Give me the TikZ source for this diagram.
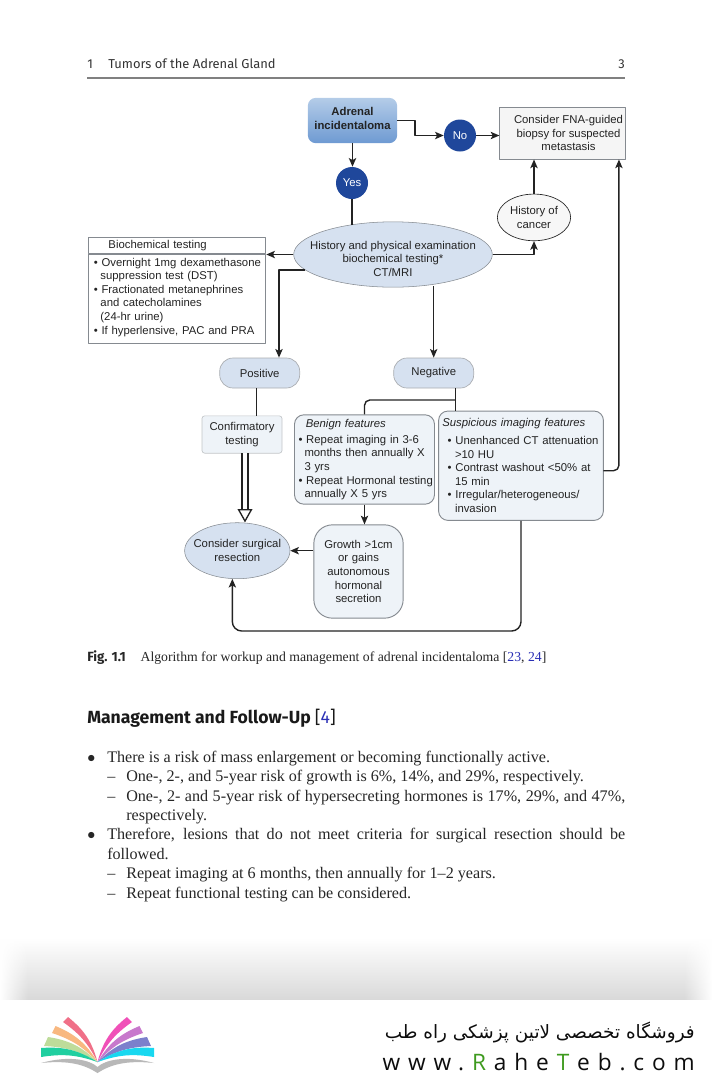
\documentclass[tikz,border=0pt]{standalone}
\usepackage{fontspec}
\setmainfont{Liberation Serif}
\setsansfont{Liberation Sans}
\newfontfamily\headfont{Fira Sans}
\newfontfamily\webfont[LetterSpace=34.7]{Open Sans}
\newfontfamily\persfont[Script=Arabic]{DejaVu Sans}
\TeXXeTstate=1
\usetikzlibrary{calc,arrows.meta,fadings,shapes.geometric}
\definecolor{inkdark}{HTML}{232323}
\definecolor{edgegray}{HTML}{858A90}
\definecolor{ovalblue}{HTML}{D6E1F0}
\definecolor{paleblue}{HTML}{EEF3F8}
\definecolor{discblue}{HTML}{1F479B}
\definecolor{linkblue}{HTML}{2A2FB5}
\definecolor{webgreen}{HTML}{3E9A1E}
\definecolor{adrtop}{HTML}{B4CCE8}
\definecolor{adrbot}{HTML}{6E9AD2}
\definecolor{fanred}{HTML}{F07088}
\definecolor{fanorange}{HTML}{F8B880}
\definecolor{fangreen}{HTML}{BEDC9A}
\definecolor{fanteal}{HTML}{20CFA0}
\definecolor{fanmagenta}{HTML}{F050B8}
\definecolor{fanpurple}{HTML}{C878CC}
\definecolor{fanblue}{HTML}{7C80CC}
\definecolor{fancyan}{HTML}{18D8F0}
\tikzfading[name=fadeleft,left color=transparent!0,right color=transparent!100]
\tikzfading[name=faderight,left color=transparent!100,right color=transparent!0]
\begin{document}
\begin{tikzpicture}[>={Stealth[length=6.5pt,width=5.5pt,inset=1.5pt]},line join=round,x=.75pt,y=-.75pt,
	flowfont/.style={font=\sffamily\fontsize{8.5}{10.2}\selectfont,text=inkdark},
	link/.style={draw=inkdark,line width=1.05pt},
	disc/.style={circle,fill=discblue,flowfont,text=white,inner sep=0pt,minimum size=24pt},
	oval/.style={ellipse,draw=edgegray,line width=.4pt,fill=ovalblue,flowfont,align=center,inner xsep=-15pt,inner ysep=0pt},
	plainbox/.style={rectangle,draw=edgegray,line width=.7pt,flowfont,inner sep=0pt},
	softbox/.style={rectangle,rounded corners=7pt,draw=edgegray,line width=.7pt,fill=paleblue,flowfont,inner ysep=0pt},
	pill/.style={rectangle,rounded corners=10pt,draw=edgegray!70,line width=.5pt,fill=ovalblue,flowfont,inner sep=0pt,minimum width=60pt,minimum height=22.5pt},
	bodyline/.style={anchor=base west,inner sep=0pt,font=\rmfamily\fontsize{12.1}{14}\selectfont,text=black!85},
	pagehead/.style={inner sep=0pt,font=\headfont\fontsize{9.7}{11}\selectfont,text=black!80}]
	\def\bul{\textbullet\ }
	\def\wk{\kern5.9pt}
	\useasboundingbox (0,0) rectangle (712,1079);
	\node[pagehead,anchor=base west] (chapno) at (87,68) {1};
	\node[pagehead,anchor=base west] (chaptitle) at (108,68) {Tumors of the Adrenal Gland};
	\node[pagehead,anchor=base east] (pageno) at (625,68) {3};
	\draw[draw=black!50,line width=1pt] (87,78)--(625,78);
	%
	\node[rectangle,rounded corners=6pt,top color=adrtop,bottom color=adrbot,draw=none,flowfont,font=\sffamily\bfseries\fontsize{8.5}{10.5}\selectfont,align=center,minimum width=67pt,minimum height=34pt,inner sep=0pt] (adrenal) at (352.5,120.5) {Adrenal\\incidentaloma\\[-7pt]\mbox{}};
	\node[disc] (no) at (460,135.5) {No};
	\node[disc] (yes) at (352,183) {Yes};
	\node[plainbox,fill=black!4,align=center,minimum width=94pt,minimum height=39pt] (fna) at (562.5,133) {\hspace*{9pt}Consider FNA-guided\\\hspace*{9pt}biopsy for suspected\\\hspace*{9pt}metastasis};
	\node[ellipse,draw=inkdark,line width=.5pt,fill=black!3,flowfont,align=center,inner sep=0pt,minimum width=55pt,minimum height=35pt] (cancer) at (534,217.4) {History of\\cancer};
	\node[oval,minimum width=149pt,minimum height=49pt] (main) at (393,254.5) {\mbox{}\\[2.1pt]History and physical examination\\biochemical testing*\\CT/MRI};
	\node[plainbox,anchor=north west,fill=white,text width=133pt,align=left,minimum height=12pt] (biotitle) at (88,237) {\hspace*{15pt}Biochemical testing};
	\node[plainbox,anchor=north west,text width=133pt,align=left,minimum height=66.5pt] (biolist) at (biotitle.south west) {\hspace*{4pt}\bul Overnight 1mg dexamethasone\\\hspace*{9pt}suppression test (DST)\\\hspace*{4pt}\bul Fractionated metanephrines\\\hspace*{9pt}and catecholamines\\\hspace*{9pt}(24-hr urine)\\\hspace*{4pt}\bul If hyperlensive, PAC and PRA\\[-6pt]\mbox{}};
	\node[pill] (positive) at (259.7,373) {Positive};
	\node[pill] (negative) at (433.7,373) {Negative};
	\node[rectangle,rounded corners=2pt,draw=edgegray!50,line width=.5pt,fill=paleblue,flowfont,align=center,minimum width=60pt,minimum height=28pt,inner sep=0pt] (confirm) at (242,434.5) {Confirmatory\\testing};
	\node[softbox,text width=100pt,inner xsep=2.5pt,align=left,minimum height=67pt] (benign) at (364.5,459.5) {\hspace*{6pt}\textit{Benign features}\\[2pt]\hspace*{.5pt}\bul Repeat imaging in 3-6\\\hspace*{5pt}months then annually X\\\hspace*{5pt}3 yrs\\\hspace*{.5pt}\mbox{\bul Repeat Hormonal testing}\\\hspace*{5pt}annually X 5 yrs};
	\node[softbox,text width=118pt,inner xsep=2.8pt,align=left,minimum height=82pt] (suspicious) at (521,465.7) {\textit{Suspicious imaging features}\\[3pt]\hspace*{4pt}\bul Unenhanced CT attenuation\\\hspace*{9.5pt}>10 HU\\\hspace*{4pt}\bul Contrast washout <50\% at\\\hspace*{9.5pt}15 min\\\hspace*{4pt}\bul Irregular/heterogeneous/\\\hspace*{9.5pt}invasion};
	\node[oval,minimum width=79pt,minimum height=42pt] (consider) at (237.3,550.7) {Consider surgical\\resection};
	\node[softbox,rounded corners=14pt,text width=65pt,inner xsep=1pt,align=center,minimum height=70pt] (growth) at (358.5,571.5) {Growth >1cm\\or gains\\autonomous\\hormonal\\secretion};
	%
	\draw[link,->] (adrenal.south) -- (adrenal.south |- yes.north);
	\draw[link] (yes.south) -- (yes.south |- main.144);
	\draw[link,->] (adrenal.east) -- ++(17.5,0) |- (no.west);
	\draw[link,->] (no.east) -- (no.east -| fna.west);
	\draw[link,->] (cancer.north) -- (cancer.north |- fna.south);
	\draw[link,->] (main.east) -| (cancer.south);
	\draw[link,->] (main.west) -- (main.west -| biolist.east);
	\draw[link,->] (main.190) -| ($(positive.north)+(19.3,0)$);
	\draw[link,->] (negative.north |- main.307) -- (negative.north);
	\coordinate (posdrop) at (256.7,388);
	\draw[link] (posdrop) -- (posdrop |- confirm.north);
	\coordinate (negdrop) at (455.3,388);
	\coordinate (negjoin) at (455.3,400);
	\draw[link] (negdrop) -- (negdrop |- suspicious.north);
	\draw[link,rounded corners=4pt] (negjoin) -| (benign.north);
	\draw[link,->] (benign.south) -- (benign.south |- growth.north);
	\draw[link,->] (consider.east -| growth.west) -- (consider.east);
	\coordinate (loopcorner) at (521,631);
	\draw[link,->,rounded corners=7pt] (suspicious.south) -- (loopcorner) -| (consider.260);
	\coordinate (suspout) at (603.3,470.7);
	\draw[link,->,rounded corners=4pt] (suspout) -| ($(fna.south east)+(-6.7,0)$);
	\coordinate (dbltop) at (245,453);
	\draw[draw=inkdark,line width=1pt,double=white,double distance=3.4pt,-{Triangle[open,fill=white,length=10pt,width=11pt]}] (dbltop) -- (dbltop |- consider.north);
	%
	\node[anchor=base west,inner sep=0pt,font=\rmfamily\fontsize{10.3}{12}\selectfont,text=black!85] (caption) at (87,661) {{\headfont\bfseries\fontsize{10}{12}\selectfont Fig.\kern3pt1.1}\hspace{11pt}Algorithm for workup and management of adrenal incidentaloma [\textcolor{linkblue}{23}, \textcolor{linkblue}{24}]};
	\node[anchor=base west,inner sep=0pt,font=\headfont\bfseries\fontsize{13.2}{15}\selectfont,text=black!90] (heading) at (87,723) {Management and Follow-Up {\mdseries[\textcolor{linkblue}{4}]}};
	\node[bodyline] (bulone) at (87,762) {$\bullet$};
	\node[bodyline] (lineone) at (107,762) {There is a risk of mass enlargement or becoming functionally active.};
	\node[bodyline] (dashtwo) at (107,781) {--};
	\node[bodyline] (linetwo) at (126,781) {One-, 2-, and 5-year risk of growth is 6\%, 14\%, and 29\%, respectively.};
	\node[bodyline] (dashthree) at (107,801) {--};
	\node[bodyline] (linethree) at (126,801) {\makebox[374.25pt][s]{One-, 2- and 5-year risk of hypersecreting hormones is 17\%, 29\%, and 47\%,}};
	\node[bodyline] (linefour) at (126,820) {respectively.};
	\node[bodyline] (bulfive) at (87,839.5) {$\bullet$};
	\node[bodyline] (linefive) at (107,839.5) {\makebox[388.5pt][s]{Therefore, lesions that do not meet criteria for surgical resection should be}};
	\node[bodyline] (linesix) at (107,859) {followed.};
	\node[bodyline] (dashseven) at (107,878.5) {--};
	\node[bodyline] (lineseven) at (126,878.5) {Repeat imaging at 6 months, then annually for 1--2 years.};
	\node[bodyline] (dasheight) at (107,898) {--};
	\node[bodyline] (lineeight) at (126,898) {Repeat functional testing can be considered.};
	%
	\shade[top color=white,bottom color=black!18,draw=none] (0,938) rectangle (712,1012);
	\fill[white,path fading=fadeleft] (0,930) rectangle (28,1012);
	\fill[white,path fading=faderight] (684,930) rectangle (712,1012);
	\fill[white] (0,1000) rectangle (712,1079);
	%
	\foreach \ax/\ay/\bx/\by/\fan in {68/1017/63/1022/fanred,55.5/1026/52/1033/fanorange,48/1037/44/1046/fangreen,41/1048/41/1057/fanteal}
		\fill[\fan] (\ax,\ay) to[bend left=18] (97.5,1062) to[bend right=14] (\bx,\by) -- cycle;
	\foreach \ax/\ay/\bx/\by/\fan in {127/1017/132/1022/fanmagenta,139.5/1026/143/1033/fanpurple,147/1037/151/1046/fanblue,154/1048/154/1057/fancyan}
		\fill[\fan] (\ax,\ay) to[bend right=18] (97.5,1062) to[bend left=14] (\bx,\by) -- cycle;
	\fill[black!28] (41,1063) .. controls (70,1055) and (90,1060) .. (97.5,1067) .. controls (105,1060) and (125,1055) .. (154,1063) .. controls (125,1060) and (110,1065) .. (97.5,1073) .. controls (85,1065) and (70,1060) .. (41,1063);
	\node[anchor=east,inner sep=0pt,font=\persfont\fontsize{13.8}{16}\selectfont,text=black!95] (shopname) at (695,1032) {\beginR فروشگاه تخصصی لاتین پزشکی  راه طب\endR};
	\node[anchor=east,inner sep=0pt,font=\webfont\fontsize{17}{20}\selectfont,text=black!95] (website) at (695,1062) {www.\wk\textcolor{webgreen}{R}\wk ahe\wk\textcolor{webgreen}{T}\wk eb.com};
\end{tikzpicture}
\end{document}
